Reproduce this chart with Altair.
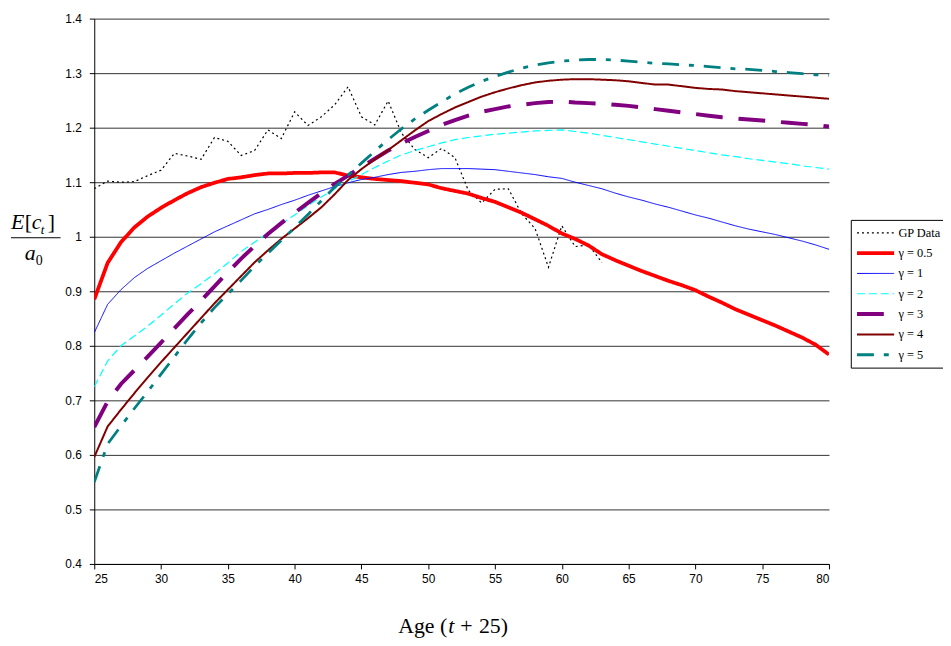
import altair as alt
import pandas as pd

ages = list(range(25, 81))
gp_ages = list(range(25, 64))

gp_data = [1.088, 1.102, 1.100, 1.101, 1.112, 1.122, 1.153, 1.148, 1.142, 1.182,
           1.175, 1.149, 1.158, 1.196, 1.180, 1.229, 1.204, 1.220, 1.242, 1.275,
           1.220, 1.205, 1.249, 1.190, 1.160, 1.145, 1.162, 1.145, 1.085, 1.062,
           1.087, 1.088, 1.042, 1.015, 0.944, 1.020, 0.982, 0.985, 0.953]

g05 = [0.885, 0.952, 0.990, 1.017, 1.037, 1.053, 1.067, 1.080, 1.091, 1.099,
       1.106, 1.109, 1.113, 1.116, 1.116, 1.117, 1.117, 1.118, 1.118, 1.112,
       1.109, 1.106, 1.104, 1.102, 1.099, 1.096, 1.089, 1.084, 1.079, 1.071,
       1.064, 1.054, 1.044, 1.032, 1.020, 1.006, 0.996, 0.984, 0.968, 0.957,
       0.947, 0.937, 0.928, 0.919, 0.911, 0.902, 0.890, 0.879, 0.867, 0.857,
       0.847, 0.837, 0.826, 0.815, 0.802, 0.784]

g1 = [0.824, 0.876, 0.903, 0.925, 0.942, 0.956, 0.970, 0.983, 0.996, 1.009,
      1.020, 1.031, 1.042, 1.050, 1.059, 1.067, 1.076, 1.084, 1.092, 1.099,
      1.105, 1.109, 1.114, 1.118, 1.120, 1.123, 1.125, 1.125, 1.125, 1.124,
      1.123, 1.120, 1.117, 1.114, 1.110, 1.107, 1.100, 1.094, 1.088, 1.080,
      1.073, 1.067, 1.060, 1.054, 1.047, 1.040, 1.034, 1.027, 1.020, 1.014,
      1.009, 1.004, 0.998, 0.992, 0.985, 0.977]

g2 = [0.725, 0.772, 0.800, 0.818, 0.836, 0.856, 0.877, 0.897, 0.914, 0.932,
      0.952, 0.973, 0.990, 1.007, 1.023, 1.040, 1.057, 1.073, 1.088, 1.101,
      1.114, 1.127, 1.139, 1.150, 1.158, 1.165, 1.172, 1.178, 1.182, 1.185,
      1.188, 1.190, 1.192, 1.194, 1.195, 1.196, 1.193, 1.190, 1.186, 1.182,
      1.178, 1.174, 1.170, 1.166, 1.162, 1.158, 1.154, 1.150, 1.147, 1.143,
      1.140, 1.137, 1.134, 1.130, 1.127, 1.124]

g3 = [0.651, 0.698, 0.730, 0.755, 0.780, 0.806, 0.832, 0.858, 0.883, 0.909,
      0.935, 0.960, 0.983, 1.005, 1.025, 1.044, 1.062, 1.080, 1.097, 1.112,
      1.128, 1.143, 1.158, 1.171, 1.183, 1.194, 1.205, 1.214, 1.222, 1.229,
      1.234, 1.239, 1.242, 1.245, 1.247, 1.248, 1.246, 1.245, 1.244, 1.242,
      1.240, 1.237, 1.234, 1.231, 1.228, 1.225, 1.222, 1.219, 1.217, 1.215,
      1.213, 1.211, 1.209, 1.207, 1.205, 1.202]

g4 = [0.596, 0.652, 0.683, 0.713, 0.742, 0.770, 0.797, 0.824, 0.851, 0.878,
      0.903, 0.928, 0.953, 0.975, 0.996, 1.015, 1.034, 1.054, 1.078, 1.104,
      1.124, 1.142, 1.159, 1.177, 1.195, 1.212, 1.225, 1.237, 1.247, 1.257,
      1.265, 1.272, 1.278, 1.283, 1.286, 1.288, 1.289, 1.289, 1.288, 1.287,
      1.285, 1.282, 1.279, 1.279, 1.276, 1.273, 1.271, 1.270, 1.267, 1.265,
      1.263, 1.261, 1.259, 1.257, 1.255, 1.253]

g5 = [0.550, 0.620, 0.653, 0.685, 0.716, 0.748, 0.780, 0.812, 0.842, 0.870,
      0.895, 0.920, 0.946, 0.970, 0.993, 1.017, 1.041, 1.066, 1.091, 1.113,
      1.135, 1.157, 1.178, 1.198, 1.216, 1.232, 1.247, 1.262, 1.274, 1.285,
      1.294, 1.302, 1.309, 1.315, 1.319, 1.322, 1.324, 1.325, 1.325, 1.324,
      1.322, 1.320, 1.318, 1.317, 1.315, 1.314, 1.312, 1.310, 1.308, 1.307,
      1.305, 1.303, 1.301, 1.299, 1.297, 1.296]

series_names = ["GP Data", "γ = 0.5", "γ = 1", "γ = 2", "γ = 3", "γ = 4", "γ = 5"]
series_colors = ["#000000", "#FF0000", "#0000FF", "#00FFFF", "#800080", "#800000", "#008080"]
series_dash = [[2, 3], [1, 0], [1, 0], [8, 4], [27, 16], [1, 0], [17, 10, 5, 10]]
series_width = [1.2, 3.8, 1.0, 1.2, 4.0, 2.0, 2.8]

rows = []
for a, v in zip(gp_ages, gp_data):
    rows.append({"age": a, "value": v, "series": "GP Data", "order": 0})
for i, (name, vals) in enumerate(zip(series_names[1:], [g05, g1, g2, g3, g4, g5]), start=1):
    for a, v in zip(ages, vals):
        rows.append({"age": a, "value": v, "series": name, "order": i})
df = pd.DataFrame(rows)

W, H = 741, 550

lines = alt.Chart(df).mark_line(clip=True).encode(
    x=alt.X("age:Q", scale=alt.Scale(domain=[25, 80], nice=False),
            axis=alt.Axis(values=list(range(25, 81, 5)), title=None, grid=False,
                          labelFont="Liberation Sans", labelFontSize=12, labelColor="black",
                          domainColor="black", tickColor="black", tickSize=5, labelPadding=5)),
    y=alt.Y("value:Q", scale=alt.Scale(domain=[0.4, 1.4], nice=False, zero=False),
            axis=alt.Axis(values=[0.4, 0.5, 0.6, 0.7, 0.8, 0.9, 1.0, 1.1, 1.2, 1.3, 1.4],
                          format="~g", title=None, grid=True, gridColor="#333333",
                          gridWidth=1, labelFont="Liberation Sans", labelFontSize=12,
                          labelColor="black", domainColor="black", tickColor="black",
                          tickSize=5, labelPadding=8)),
    color=alt.Color("series:N", scale=alt.Scale(domain=series_names, range=series_colors),
                    legend=alt.Legend(title=None, orient="none", legendX=763, legendY=203,
                                      symbolType="stroke", symbolSize=1400,
                                      labelFont="Liberation Serif", labelFontSize=12.5,
                                      labelColor="black", strokeColor="black",
                                      fillColor="white", padding=4, rowPadding=2.5,
                                      clipHeight=18, labelOffset=2)),
    strokeDash=alt.StrokeDash("series:N", scale=alt.Scale(domain=series_names, range=series_dash),
                              legend=None),
    strokeWidth=alt.StrokeWidth("series:N",
                                scale=alt.Scale(type="ordinal", domain=series_names, range=series_width),
                                legend=None),
    order=alt.Order("order:Q"),
    detail="series:N",
)

one = pd.DataFrame({"k": [0]})

def txt(text, x, y, size=20, style="normal", align="left"):
    return alt.Chart(one).mark_text(text=text, font="Liberation Serif", fontSize=size,
                                    fontStyle=style, align=align, baseline="alphabetic",
                                    color="black").encode(x=alt.value(x), y=alt.value(y))

ylab = [
    txt("E", -84, 212, 22, "italic"),
    txt("[", -70, 212, 22),
    txt("c", -63, 212, 22, "italic"),
    txt("t", -54, 217, 13, "italic"),
    txt("]", -47, 212, 22),
    txt("a", -70, 243, 22, "italic"),
    txt("0", -59, 248, 14),
]
frac = alt.Chart(one).mark_rule(color="black", strokeWidth=1).encode(
    x=alt.value(-84), x2=alt.value(-34), y=alt.value(221))

xlab = [
    txt("Age (", 356, 620, 22, "normal", "right"),
    txt("t", 357, 620, 22, "italic"),
    txt("+", 369, 620, 22),
    txt("25)", 388, 620, 22),
]

chart = alt.layer(lines, frac, *ylab, *xlab).properties(
    width=W, height=H,
    autosize=alt.AutoSizeParams(type="none"),
    padding={"left": 87, "top": 8, "right": 115, "bottom": 74},
).configure_view(stroke=None)

chart.save("out.html", embed_options={"renderer": "svg", "actions": False})
